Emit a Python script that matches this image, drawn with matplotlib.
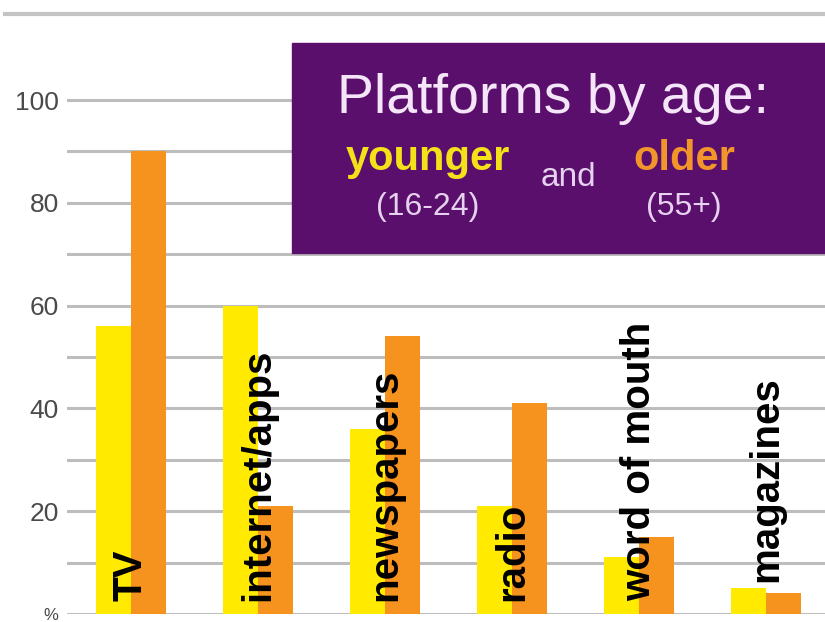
import numpy as np
import matplotlib
matplotlib.use("Agg")
import matplotlib.pyplot as plt
from matplotlib.patches import Rectangle
from matplotlib.lines import Line2D

plt.rcParams['font.family'] = ['Liberation Sans', 'DejaVu Sans']

# data (share of each age group using the platform, %)
platforms = ['TV', 'internet/apps', 'newspapers', 'radio', 'word of mouth', 'magazines']
younger = [56, 60, 36, 21, 11, 5]
older = [90, 21, 54, 41, 15, 4]
ytick_vals = [0, 20, 40, 60, 80, 100]
ytick_labels = ['%', '20', '40', '60', '80', '100']

YELLOW = '#FFEA00'
ORANGE = '#F6921E'
PURPLE = '#5A0F6C'
GRID = '#BDBDBD'

fig = plt.figure(figsize=(8.25, 6.22), dpi=100)
W, H = 825, 622

# axes placed in pixel terms of the reference
ax = fig.add_axes([67 / W, (H - 614) / H, 1 - 67 / W, 600 / H])
ax.set_ylim(0, 600 / 5.14)
x = np.arange(len(platforms))
ax.set_xlim(-64 / 127, (825 - 131) / 127)

# gridlines every 10
for g in range(0, 101, 10):
    ax.axhline(g, color=GRID, lw=2.2, zorder=0)

w = 35 / 127
ax.bar(x - w / 2, younger, width=w, color=YELLOW, zorder=2)
ax.bar(x + w / 2, older, width=w, color=ORANGE, zorder=2)

# rotated category labels sitting on the bars
for xi, name, yv, ov in zip(x, platforms, younger, older):
    top = max(yv, ov)
    base = 2.5 if top > 10 else top + 1.3
    ax.text(xi, base, name, rotation=90, ha='center', va='bottom',
            fontsize=29, fontweight='bold', color='black', zorder=3)

ax.set_yticks(ytick_vals)
ax.set_yticklabels(ytick_labels)
ax.tick_params(axis='y', length=0, pad=6, labelsize=19, labelcolor='#4a4a4a')
ax.yaxis.get_ticklabels()[0].set_fontsize(12)
ax.set_xticks([])
for s in ax.spines.values():
    s.set_visible(False)

# top rule
fig.add_artist(Line2D([5 / W, 1], [(H - 14) / H] * 2, color='#C4C4C4', lw=3,
                      transform=fig.transFigure))

# purple key box
fig.add_artist(Rectangle((292 / W, (H - 253) / H), 1 - 292 / W, 210 / H,
                         transform=fig.transFigure, color=PURPLE, zorder=5))
fig.text(0.670, (H - 113) / H, 'Platforms by age:', ha='center', va='baseline',
         fontsize=40, color='#F4E6F8', zorder=6)
fig.text(428 / W, (H - 170) / H, 'younger', ha='center', va='baseline',
         fontsize=30, fontweight='bold', color='#F5E11A', zorder=6)
fig.text(684 / W, (H - 170) / H, 'older', ha='center', va='baseline',
         fontsize=30, fontweight='bold', color='#F2952B', zorder=6)
fig.text(568 / W, (H - 177) / H, 'and', ha='center', va='center',
         fontsize=24, color='#E6D2EE', zorder=6)
fig.text(428 / W, (H - 207) / H, '(16-24)', ha='center', va='center',
         fontsize=23, color='#E6D2EE', zorder=6)
fig.text(684 / W, (H - 207) / H, '(55+)', ha='center', va='center',
         fontsize=23, color='#E6D2EE', zorder=6)

fig.savefig('out.png', dpi=100, facecolor='white')
